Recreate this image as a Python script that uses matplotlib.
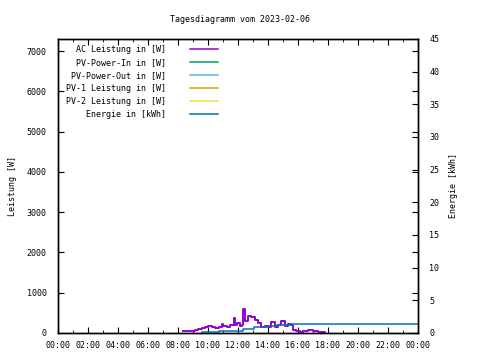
import matplotlib
matplotlib.use("Agg")
import matplotlib.pyplot as plt
from matplotlib.lines import Line2D
from matplotlib.ticker import MultipleLocator, FuncFormatter

# ---- data ----
title = "Tagesdiagramm vom 2023-02-06"
ac_hours = [8.36, 8.8, 9.13, 9.36, 9.58, 9.8, 10.0, 10.24, 10.47, 10.7, 10.9, 11.0,
            11.24, 11.47, 11.7, 11.8, 11.96, 12.13, 12.24, 12.36, 12.47, 12.69,
            12.89, 13.1, 13.33, 13.56, 13.78, 14.0, 14.22, 14.44, 14.67, 14.89,
            15.1, 15.33, 15.5, 15.67, 15.89, 16.1, 16.33, 16.67, 17.0, 17.33,
            17.56, 17.8]
ac_watts = [40, 60, 80, 100, 125, 140, 165, 150, 115, 140, 225, 165,
            150, 190, 375, 210, 250, 165, 210, 600, 290, 430,
            390, 315, 250, 150, 180, 150, 265, 150, 200, 290,
            180, 230, 200, 80, 40, 25, 40, 65, 50, 35,
            25, 0]
pv_in_hours, pv_in_watts = [], []
pv_out_hours, pv_out_watts = [], []
pv1_hours, pv1_watts = [], []
pv2_hours, pv2_watts = [], []
energy_hours = [9.58, 10.75, 11.42, 12.36, 13.07, 13.9, 14.6, 15.55, 24.0]
energy_kwh = [0.1, 0.26, 0.35, 0.61, 0.92, 1.05, 1.15, 1.38, 1.38]

labels = ["AC Leistung in [W]", "PV-Power-In in [W]", "PV-Power-Out in [W]",
          "PV-1 Leistung in [W]", "PV-2 Leistung in [W]", "Energie in [kWh]"]
colors = ["#9400d3", "#009e73", "#56b4e9", "#e69f00", "#f0e442", "#0072b2"]
xtick_hours = list(range(0, 25, 2))

# ---- plot ----
FONT = "DejaVu Sans Mono"
FS = 6
plt.rcParams["font.family"] = FONT
plt.rcParams["font.size"] = FS

fig = plt.figure(figsize=(4.8, 3.6), dpi=100)
ax = fig.add_axes([58/480, 27/360, 360/480, 294/360])
ax2 = ax.twinx()

series = [(ac_hours, ac_watts), (pv_in_hours, pv_in_watts), (pv_out_hours, pv_out_watts),
          (pv1_hours, pv1_watts), (pv2_hours, pv2_watts)]
for (h, w), c in zip(series, colors[:5]):
    ax.plot(h, w, color=c, lw=1.4, drawstyle="steps-post")
ax2.plot(energy_hours, energy_kwh, color=colors[5], lw=1.1, drawstyle="steps-post")

ax.set_xlim(0, 24)
ax.set_ylim(0, 7300)
ax2.set_ylim(0, 45)

ax.set_xticks(xtick_hours)
ax.xaxis.set_major_formatter(FuncFormatter(lambda v, p: "%02d:00" % (int(v) % 24)))
ax.xaxis.set_minor_locator(MultipleLocator(1))
ax.yaxis.set_major_locator(MultipleLocator(1000))
ax2.yaxis.set_major_locator(MultipleLocator(5))

ax.tick_params(axis="x", which="both", direction="in", top=True, labelsize=FS, pad=6)
ax.tick_params(axis="x", which="major", length=4)
ax.tick_params(axis="x", which="minor", length=2)
ax.tick_params(axis="y", direction="in", length=4, right=True, labelsize=FS, pad=8)
ax2.tick_params(axis="y", direction="in", length=4, labelsize=FS, pad=8)

for a in (ax, ax2):
    for s in a.spines.values():
        s.set_linewidth(1.0)
        s.set_color("black")

ax.set_ylabel("Leistung [W]", fontsize=FS, labelpad=7)
ax2.set_ylabel("Energie [kWh]", fontsize=FS, labelpad=7)
fig.text(240/480, 1 - 19/360, title, ha="center", va="center", fontsize=FS)

# legend (manual, gnuplot style)
for i, (lab, c) in enumerate(zip(labels, colors)):
    y = 1 - (49.3 + 13 * i) / 360
    fig.text(166/480, y, lab, ha="right", va="center", fontsize=FS)
    fig.add_artist(Line2D([190/480, 218/480], [y, y], color=c, lw=1.1,
                          transform=fig.transFigure))

fig.savefig("out.png", dpi=100)
